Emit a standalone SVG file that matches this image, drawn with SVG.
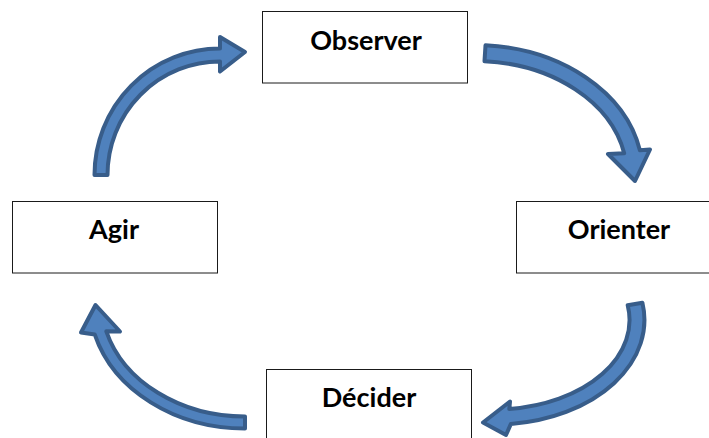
<svg xmlns="http://www.w3.org/2000/svg" width="709" height="438" viewBox="0 0 709 438">
<style>
.box{fill:#fff;stroke:#1a1a1a;stroke-width:1}
.lbl{font-family:"Lato","Liberation Sans",sans-serif;font-weight:bold;font-size:27px;fill:#000;text-anchor:middle}
.arr{fill:#4F81BD;stroke:#385D8A;stroke-width:4;stroke-linejoin:round}
</style>
<rect width="709" height="438" fill="#fff"/>
<g id="connectors">
<path class="arr" d="M94.5,175 A125.5 126.5 0 0 1 220,48.5 L220,37 L245,52 L220,71.5 L220,61.5 A112.5 113.5 0 0 0 107.5,175 Z"/>
<path class="arr" d="M485.5,45.3 A168 130 0 0 1 639.9,150.2 L650,149.5 L635,181 L608,154 L624.2,153.2 A152 114 0 0 0 484.5,61.2 Z"/>
<path class="arr" d="M627.7,305.2 L642.4,302.8 A149.5 104.5 0 0 1 510.9,423.9 L506,435 L483,422.5 L510,401.5 L509.3,409 A134.5 89.5 0 0 0 627.7,305.2 Z"/>
<path class="arr" d="M245,416.5 L245,428.5 A156 128.5 0 0 1 94.8,334.6 L81,332.5 L95.5,305 L120,331.5 L106.3,331.3 A144 116.5 0 0 0 245,416.5 Z"/>
</g>
<g id="observer">
<rect class="box" x="262.5" y="11.5" width="205" height="71.5"/>
<text class="lbl" x="366" y="50">Observer</text>
</g>
<g id="orienter">
<rect class="box" x="516.5" y="201.5" width="205" height="71.5"/>
<text class="lbl" x="619" y="239">Orienter</text>
</g>
<g id="decider">
<rect class="box" x="266.5" y="369.5" width="205" height="80"/>
<text class="lbl" x="369" y="407">Décider</text>
</g>
<g id="agir">
<rect class="box" x="12.5" y="201.5" width="205" height="71.5"/>
<text class="lbl" x="114" y="239">Agir</text>
</g>
</svg>
